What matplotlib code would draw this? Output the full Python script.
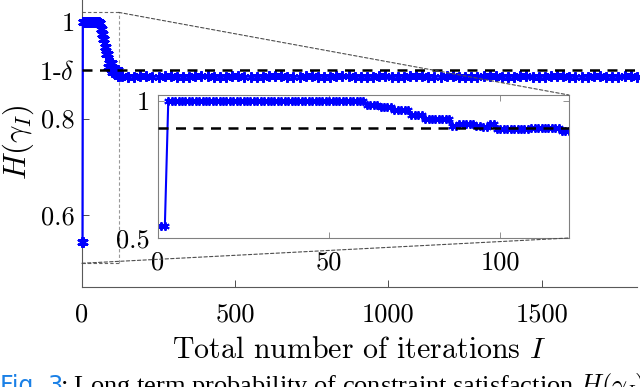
import numpy as np
import matplotlib.pyplot as plt
from matplotlib.patches import ConnectionPatch

plt.rcParams['font.family'] = 'cmr10'
plt.rcParams['mathtext.fontset'] = 'cm'
plt.rcParams['axes.formatter.use_mathtext'] = True

# H(gamma_I) for the first iterations I = 1..120 (shown in the zoom inset)
early_iters = np.arange(1, 121)
early_prob = [
    0.545, 0.545, 1.0, 1.0, 1.0, 1.0, 1.0, 1.0, 1.0, 1.0,
    1.0, 1.0, 1.0, 1.0, 1.0, 1.0, 1.0, 1.0, 1.0, 1.0,
    1.0, 1.0, 1.0, 1.0, 1.0, 1.0, 1.0, 1.0, 1.0, 1.0,
    1.0, 1.0, 1.0, 1.0, 1.0, 1.0, 1.0, 1.0, 1.0, 1.0,
    1.0, 1.0, 1.0, 1.0, 1.0, 1.0, 1.0, 1.0, 1.0, 1.0,
    1.0, 1.0, 1.0, 1.0, 1.0, 0.997, 0.997, 0.997, 0.997, 0.997,
    0.985, 0.985, 0.985, 0.985, 0.976, 0.976, 0.976, 0.976, 0.965, 0.965,
    0.965, 0.965, 0.965, 0.949, 0.949, 0.949, 0.949, 0.934, 0.934, 0.934,
    0.934, 0.934, 0.934, 0.934, 0.934, 0.906, 0.906, 0.915, 0.915, 0.915,
    0.915, 0.915, 0.907, 0.906, 0.904, 0.903, 0.915, 0.915, 0.897, 0.897,
    0.897, 0.897, 0.897, 0.897, 0.897, 0.897, 0.897, 0.897, 0.900, 0.900,
    0.900, 0.900, 0.900, 0.900, 0.900, 0.900, 0.900, 0.888, 0.888, 0.888,
]

# H(gamma_I) for the later iterations (every 20th iteration)
late_iters = np.arange(130, 1811, 20)
late_prob = [
    0.888, 0.887, 0.887, 0.888, 0.888, 0.887, 0.887, 0.888, 0.888, 0.887,
    0.887, 0.887, 0.888, 0.888, 0.888, 0.887, 0.887, 0.887, 0.888, 0.888,
    0.887, 0.887, 0.887, 0.887, 0.888, 0.888, 0.888, 0.887, 0.887, 0.887,
    0.888, 0.888, 0.887, 0.887, 0.887, 0.888, 0.888, 0.888, 0.887, 0.887,
    0.887, 0.887, 0.888, 0.888, 0.887, 0.887, 0.887, 0.888, 0.888, 0.888,
    0.887, 0.887, 0.887, 0.888, 0.888, 0.887, 0.887, 0.887, 0.887, 0.888,
    0.888, 0.888, 0.887, 0.887, 0.887, 0.888, 0.888, 0.887, 0.887, 0.887,
    0.888, 0.888, 0.888, 0.887, 0.887, 0.887, 0.887, 0.888, 0.888, 0.887,
    0.887, 0.887, 0.888, 0.888, 0.887,
]

delta_level = 0.9
main_yticks = [0.6, 0.8, 0.9, 1.0]
main_yticklabels = ['0.6', '0.8', r'1-$\delta$', '1']
main_xticks = [0, 500, 1000, 1500]
inset_xticks = [0, 50, 100]
inset_yticks = [0.5, 1.0]

all_iters = np.concatenate([early_iters, late_iters])
all_prob = np.concatenate([early_prob, late_prob])

asterisk = (6, 2, 0)
dash = (0, (4, 3))

fig = plt.figure(figsize=(6.4, 3.87), dpi=100)

# main axes (box off, cut at the top like the original)
ax = fig.add_axes([0.128, 0.2574, 0.867, 0.748])
ax.plot(all_iters, all_prob, color='b', lw=1.6, marker=asterisk,
        markersize=7.5, markeredgewidth=1.6, zorder=3, clip_on=False)
ax.axhline(delta_level, color='k', ls=dash, lw=1.8, zorder=5)
ax.set_xlim(0, 1810)
ax.set_ylim(0.45, 1.05)
ax.set_xticks(main_xticks)
ax.set_xticklabels([str(t) for t in main_xticks])
ax.set_yticks(main_yticks)
ax.set_yticklabels(main_yticklabels)
ax.tick_params(direction='in', length=5, width=0.7, labelsize=19,
               colors='0.3', labelcolor='k')
ax.tick_params(axis='x', pad=11)
ax.tick_params(axis='y', pad=5)
for side in ['top', 'right']:
    ax.spines[side].set_visible(False)
for side in ['left', 'bottom']:
    ax.spines[side].set_color('0.35')
    ax.spines[side].set_linewidth(0.8)
ax.set_xlabel(r'Total number of iterations $I$', fontsize=21.5, labelpad=7)
ax.set_ylabel(r'$H(\gamma_I)$', fontsize=22, labelpad=2)

# zoom rectangle in the main axes
zx0, zx1, zy0, zy1 = 0, 120, 0.5, 1.02
ax.plot([zx0, zx1], [zy1, zy1], color='0.4', ls=(0, (3, 2)), lw=0.8)
ax.plot([zx0, zx1], [zy0, zy0], color='0.4', ls=(0, (3, 2)), lw=0.8)
ax.plot([zx1, zx1], [zy0, zy1], color='0.6', ls=(0, (3, 2)), lw=0.8)

# inset
ins = fig.add_axes([0.2469, 0.385, 0.642, 0.3695])
ins.plot(early_iters, early_prob, color='b', lw=1.5, marker=asterisk,
         markersize=6, markeredgewidth=1.4)
ins.axhline(delta_level, color='k', ls=dash, lw=1.8, zorder=5)
ins.set_xlim(0, 120)
ins.set_ylim(0.5, 1.02)
ins.set_xticks(inset_xticks)
ins.set_xticklabels([str(t) for t in inset_xticks])
ins.set_yticks(inset_yticks)
ins.set_yticklabels(['0.5', '1'])
ins.tick_params(direction='in', length=4, width=0.6, labelsize=19,
                top=True, right=True, colors='0.5', labelcolor='k')
ins.tick_params(axis='x', pad=9.5)
ins.tick_params(axis='y', pad=6)
for side in ins.spines.values():
    side.set_color('0.5')
    side.set_linewidth(0.8)

# connector lines from the zoom rectangle to the inset
for xa, ya, xb, yb in [(zx1, zy1, 1, 1), (zx0, zy0, 1, 0)]:
    con = ConnectionPatch(xyA=(xa, ya), coordsA=ax.transData,
                          xyB=(xb, yb), coordsB=ins.transAxes,
                          color='0.3', ls=(0, (3, 2)), lw=0.8)
    fig.add_artist(con)

# caption, cut by the bottom edge as in the original page crop
fig.text(0.0, -0.016, 'Fig. 3', color=(0.1, 0.5, 0.9), fontsize=17,
         family='DejaVu Sans', va='baseline')
fig.text(60 / 640, -0.016,
         r': Long term probability of constraint satisfaction $H(\gamma_I)$',
         fontsize=19, family='Liberation Serif', va='baseline')

fig.savefig('out.png', dpi=100)
